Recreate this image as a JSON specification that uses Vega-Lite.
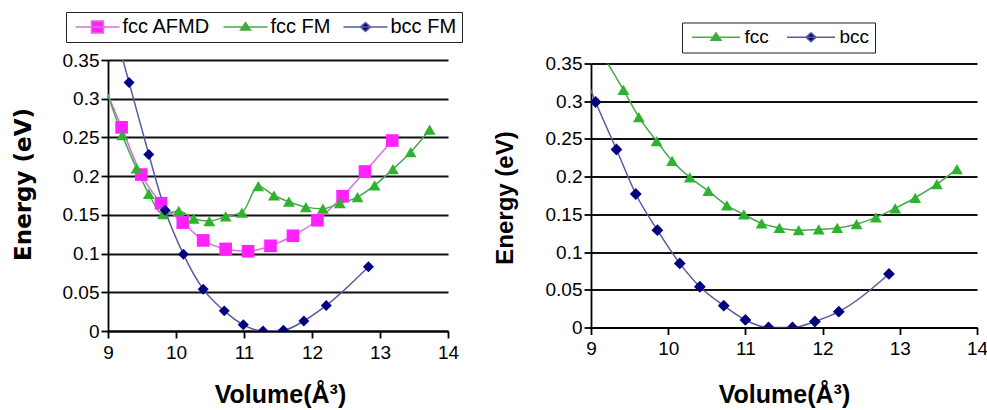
{
  "$schema": "https://vega.github.io/schema/vega-lite/v6.json",
  "autosize": {"type": "none"},
  "padding": {"left": 108, "top": 60, "right": 879, "bottom": 350},
  "background": "white",
  "config": {
    "view": {"stroke": null},
    "font": "Liberation Sans",
    "axis": {
      "labelFont": "Liberation Sans", "labelFontSize": 19, "labelColor": "#000",
      "domainColor": "#000", "domainWidth": 1.8, "tickColor": "#000", "tickWidth": 1.8, "tickSize": 7,
      "labelFlush": false, "labelOverlap": false, "titleColor": "#000", "titleFontWeight": "bold"
    }
  },
  "bounds": "flush",
  "spacing": 143,
  "center": true,
  "resolve": {"scale": {"x": "independent", "y": "independent", "fill": "independent", "stroke": "independent", "shape": "independent", "size": "independent"}},
  "hconcat": [
    {
      "width": 340, "height": 271,
      "data": {"values": [
        {"series": "fcc AFMD", "volume": 8.9, "energy": 0.326},
        {"series": "fcc AFMD", "volume": 9.2, "energy": 0.263},
        {"series": "fcc AFMD", "volume": 9.49, "energy": 0.202},
        {"series": "fcc AFMD", "volume": 9.78, "energy": 0.165},
        {"series": "fcc AFMD", "volume": 10.1, "energy": 0.14},
        {"series": "fcc AFMD", "volume": 10.4, "energy": 0.117},
        {"series": "fcc AFMD", "volume": 10.73, "energy": 0.106},
        {"series": "fcc AFMD", "volume": 11.06, "energy": 0.103},
        {"series": "fcc AFMD", "volume": 11.39, "energy": 0.11},
        {"series": "fcc AFMD", "volume": 11.72, "energy": 0.123},
        {"series": "fcc AFMD", "volume": 12.08, "energy": 0.143},
        {"series": "fcc AFMD", "volume": 12.45, "energy": 0.174},
        {"series": "fcc AFMD", "volume": 12.78, "energy": 0.206},
        {"series": "fcc AFMD", "volume": 13.18, "energy": 0.246},
        {"series": "fcc FM", "volume": 8.9, "energy": 0.33},
        {"series": "fcc FM", "volume": 9.21, "energy": 0.253},
        {"series": "fcc FM", "volume": 9.42, "energy": 0.21},
        {"series": "fcc FM", "volume": 9.6, "energy": 0.177},
        {"series": "fcc FM", "volume": 9.81, "energy": 0.151},
        {"series": "fcc FM", "volume": 10.04, "energy": 0.155},
        {"series": "fcc FM", "volume": 10.26, "energy": 0.145},
        {"series": "fcc FM", "volume": 10.49, "energy": 0.142},
        {"series": "fcc FM", "volume": 10.73, "energy": 0.148},
        {"series": "fcc FM", "volume": 10.97, "energy": 0.153},
        {"series": "fcc FM", "volume": 11.21, "energy": 0.187},
        {"series": "fcc FM", "volume": 11.44, "energy": 0.175},
        {"series": "fcc FM", "volume": 11.66, "energy": 0.167},
        {"series": "fcc FM", "volume": 11.91, "energy": 0.16},
        {"series": "fcc FM", "volume": 12.16, "energy": 0.158},
        {"series": "fcc FM", "volume": 12.41, "energy": 0.165},
        {"series": "fcc FM", "volume": 12.67, "energy": 0.173},
        {"series": "fcc FM", "volume": 12.92, "energy": 0.188},
        {"series": "fcc FM", "volume": 13.19, "energy": 0.209},
        {"series": "fcc FM", "volume": 13.45, "energy": 0.231},
        {"series": "fcc FM", "volume": 13.73, "energy": 0.26},
        {"series": "bcc FM", "volume": 9.05, "energy": 0.404},
        {"series": "bcc FM", "volume": 9.31, "energy": 0.321},
        {"series": "bcc FM", "volume": 9.6, "energy": 0.228},
        {"series": "bcc FM", "volume": 9.84, "energy": 0.156},
        {"series": "bcc FM", "volume": 10.11, "energy": 0.099},
        {"series": "bcc FM", "volume": 10.4, "energy": 0.054},
        {"series": "bcc FM", "volume": 10.71, "energy": 0.026},
        {"series": "bcc FM", "volume": 10.99, "energy": 0.008},
        {"series": "bcc FM", "volume": 11.28, "energy": 0.0},
        {"series": "bcc FM", "volume": 11.58, "energy": 0.001},
        {"series": "bcc FM", "volume": 11.88, "energy": 0.013},
        {"series": "bcc FM", "volume": 12.21, "energy": 0.033},
        {"series": "bcc FM", "volume": 12.83, "energy": 0.083}
      ]},
      "encoding": {
        "x": {"field": "volume", "type": "quantitative",
          "scale": {"domain": [9, 14], "nice": false, "zero": false},
          "axis": {"values": [9, 10, 11, 12, 13, 14], "format": "d", "grid": false, "labelPadding": 5,
            "title": "Volume(Å³)", "titleFont": "Liberation Sans", "titleFontSize": 25,
            "titleX": 172, "titleY": 71, "titleAlign": "center", "titleBaseline": "alphabetic"}},
        "y": {"field": "energy", "type": "quantitative",
          "scale": {"domain": [0, 0.35], "nice": false},
          "axis": {"values": [0, 0.05, 0.1, 0.15, 0.2, 0.25, 0.3, 0.35], "format": ".2~f",
            "grid": true, "gridColor": "#111111", "gridWidth": 2, "labelPadding": 2,
            "title": "Energy (eV)", "titleFont": "DejaVu Sans", "titleFontSize": 23,
            "titleX": -78, "titleY": 124, "titleAngle": -90, "titleAlign": "center", "titleBaseline": "alphabetic"}}
      },
      "resolve": {"scale": {"fill": "independent", "stroke": "independent", "shape": "independent"}},
      "layer": [
        {
          "mark": {"type": "line", "clip": true, "strokeWidth": 1.5, "interpolate": "monotone"},
          "encoding": {
            "stroke": {"field": "series", "type": "nominal",
              "scale": {"domain": ["fcc AFMD", "fcc FM", "bcc FM"], "range": ["#dc6fdc", "#4aa84a", "#5a5aa0"]},
              "legend": null}
          }
        },
        {
          "mark": {"type": "point", "clip": true, "filled": true, "opacity": 1},
          "encoding": {
            "fill": {"field": "series", "type": "nominal",
              "scale": {"domain": ["fcc AFMD", "fcc FM", "bcc FM"], "range": ["#ff22ff", "#2fb22f", "#000080"]},
              "legend": null},
            "shape": {"field": "series", "type": "nominal",
              "scale": {"domain": ["fcc AFMD", "fcc FM", "bcc FM"], "range": ["square", "triangle-up", "diamond"]},
              "legend": null},
            "size": {"field": "series", "type": "nominal",
              "scale": {"domain": ["fcc AFMD", "fcc FM", "bcc FM"], "range": [160, 120, 120]},
              "legend": null}
          }
        },
        {
          "transform": [{"filter": "false"}],
          "mark": {"type": "point", "filled": true, "size": 100, "strokeWidth": 1.5},
          "encoding": {
            "fill": {"field": "series", "type": "nominal",
              "scale": {"domain": ["fcc AFMD", "fcc FM", "bcc FM"], "range": ["#ff22ff", "#2fb22f", "#000080"]},
              "legend": {"orient": "none", "legendX": -42, "legendY": -48, "direction": "horizontal", "columns": 3, "title": null,
                "labelFont": "Liberation Sans", "labelFontSize": 20, "labelColor": "#000", "strokeColor": "#222", "fillColor": "white",
                "padding": 5, "symbolSize": 100, "symbolStrokeWidth": 1.5, "symbolOffset": 16.5, "labelOffset": 15, "columnPadding": 8, "symbolOpacity": 1}},
            "stroke": {"field": "series", "type": "nominal",
              "scale": {"domain": ["fcc AFMD", "fcc FM", "bcc FM"], "range": ["#dc6fdc", "#4aa84a", "#5a5aa0"]},
              "legend": {"orient": "none", "legendX": -42, "legendY": -48, "direction": "horizontal", "columns": 3, "title": null,
                "labelFont": "Liberation Sans", "labelFontSize": 20, "labelColor": "#000", "strokeColor": "#222", "fillColor": "white",
                "padding": 5, "symbolSize": 100, "symbolStrokeWidth": 1.5, "symbolOffset": 16.5, "labelOffset": 15, "columnPadding": 8, "symbolOpacity": 1}},
            "shape": {"field": "series", "type": "nominal",
              "scale": {"domain": ["fcc AFMD", "fcc FM", "bcc FM"], "range": [
                "M-4.4,0H4.4M-1.2,-1.2H1.2V1.2H-1.2Z",
                "M-4.4,0H4.4M0,-0.9L1,0.6H-1Z",
                "M-4.4,0H4.4M0,-0.9L1,0L0,0.9L-1,0Z"]},
              "legend": {"orient": "none", "legendX": -42, "legendY": -48, "direction": "horizontal", "columns": 3, "title": null,
                "labelFont": "Liberation Sans", "labelFontSize": 20, "labelColor": "#000", "strokeColor": "#222", "fillColor": "white",
                "padding": 5, "symbolSize": 100, "symbolStrokeWidth": 1.5, "symbolOffset": 16.5, "labelOffset": 15, "columnPadding": 8, "symbolOpacity": 1}}
          }
        }
      ]
    },
    {
      "width": 386, "height": 264,
      "data": {"values": [
        {"series": "fcc", "volume": 9.1, "energy": 0.37},
        {"series": "fcc", "volume": 9.42, "energy": 0.315},
        {"series": "fcc", "volume": 9.62, "energy": 0.279},
        {"series": "fcc", "volume": 9.85, "energy": 0.247},
        {"series": "fcc", "volume": 10.05, "energy": 0.221},
        {"series": "fcc", "volume": 10.28, "energy": 0.199},
        {"series": "fcc", "volume": 10.52, "energy": 0.181},
        {"series": "fcc", "volume": 10.76, "energy": 0.162},
        {"series": "fcc", "volume": 10.98, "energy": 0.15},
        {"series": "fcc", "volume": 11.21, "energy": 0.138},
        {"series": "fcc", "volume": 11.44, "energy": 0.132},
        {"series": "fcc", "volume": 11.69, "energy": 0.129},
        {"series": "fcc", "volume": 11.95, "energy": 0.13},
        {"series": "fcc", "volume": 12.19, "energy": 0.132},
        {"series": "fcc", "volume": 12.44, "energy": 0.137},
        {"series": "fcc", "volume": 12.69, "energy": 0.146},
        {"series": "fcc", "volume": 12.94, "energy": 0.158},
        {"series": "fcc", "volume": 13.2, "energy": 0.172},
        {"series": "fcc", "volume": 13.48, "energy": 0.19},
        {"series": "fcc", "volume": 13.74, "energy": 0.21},
        {"series": "bcc", "volume": 8.9, "energy": 0.34},
        {"series": "bcc", "volume": 9.06, "energy": 0.299},
        {"series": "bcc", "volume": 9.33, "energy": 0.236},
        {"series": "bcc", "volume": 9.58, "energy": 0.177},
        {"series": "bcc", "volume": 9.86, "energy": 0.129},
        {"series": "bcc", "volume": 10.15, "energy": 0.085},
        {"series": "bcc", "volume": 10.41, "energy": 0.054},
        {"series": "bcc", "volume": 10.72, "energy": 0.029},
        {"series": "bcc", "volume": 11.0, "energy": 0.01},
        {"series": "bcc", "volume": 11.3, "energy": 0.0},
        {"series": "bcc", "volume": 11.61, "energy": 0.0},
        {"series": "bcc", "volume": 11.9, "energy": 0.008},
        {"series": "bcc", "volume": 12.21, "energy": 0.021},
        {"series": "bcc", "volume": 12.86, "energy": 0.071}
      ]},
      "encoding": {
        "x": {"field": "volume", "type": "quantitative",
          "scale": {"domain": [9, 14], "nice": false, "zero": false},
          "axis": {"values": [9, 10, 11, 12, 13, 14], "format": "d", "grid": false, "labelPadding": 5,
            "title": "Volume(Å³)", "titleFont": "Liberation Sans", "titleFontSize": 25,
            "titleX": 193, "titleY": 75, "titleAlign": "center", "titleBaseline": "alphabetic"}},
        "y": {"field": "energy", "type": "quantitative",
          "scale": {"domain": [0, 0.35], "nice": false},
          "axis": {"values": [0, 0.05, 0.1, 0.15, 0.2, 0.25, 0.3, 0.35], "format": ".2~f",
            "grid": true, "gridColor": "#111111", "gridWidth": 2, "labelPadding": 2,
            "title": "Energy (eV)", "titleFont": "Liberation Sans", "titleFontSize": 24,
            "titleX": -79, "titleY": 134, "titleAngle": -90, "titleAlign": "center", "titleBaseline": "alphabetic"}}
      },
      "resolve": {"scale": {"fill": "independent", "stroke": "independent", "shape": "independent"}},
      "layer": [
        {
          "mark": {"type": "line", "clip": true, "strokeWidth": 1.5, "interpolate": "monotone"},
          "encoding": {
            "stroke": {"field": "series", "type": "nominal",
              "scale": {"domain": ["fcc", "bcc"], "range": ["#4aa84a", "#5a5aa0"]},
              "legend": null}
          }
        },
        {
          "mark": {"type": "point", "clip": true, "filled": true, "opacity": 1},
          "encoding": {
            "fill": {"field": "series", "type": "nominal",
              "scale": {"domain": ["fcc", "bcc"], "range": ["#2fb22f", "#000080"]},
              "legend": null},
            "shape": {"field": "series", "type": "nominal",
              "scale": {"domain": ["fcc", "bcc"], "range": ["triangle-up", "diamond"]},
              "legend": null},
            "size": {"field": "series", "type": "nominal",
              "scale": {"domain": ["fcc", "bcc"], "range": [140, 140]},
              "legend": null}
          }
        },
        {
          "transform": [{"filter": "false"}],
          "mark": {"type": "point", "filled": true, "size": 100, "strokeWidth": 1.5},
          "encoding": {
            "fill": {"field": "series", "type": "nominal",
              "scale": {"domain": ["fcc", "bcc"], "range": ["#2fb22f", "#000080"]},
              "legend": {"orient": "none", "legendX": 91, "legendY": -41, "direction": "horizontal", "columns": 2, "title": null,
                "labelFont": "Liberation Sans", "labelFontSize": 19, "labelColor": "#000", "strokeColor": "#222", "fillColor": "white",
                "padding": 5, "symbolSize": 100, "symbolStrokeWidth": 1.5, "symbolOffset": 19.5, "labelOffset": 19, "columnPadding": 13, "symbolOpacity": 1}},
            "stroke": {"field": "series", "type": "nominal",
              "scale": {"domain": ["fcc", "bcc"], "range": ["#4aa84a", "#5a5aa0"]},
              "legend": {"orient": "none", "legendX": 91, "legendY": -41, "direction": "horizontal", "columns": 2, "title": null,
                "labelFont": "Liberation Sans", "labelFontSize": 19, "labelColor": "#000", "strokeColor": "#222", "fillColor": "white",
                "padding": 5, "symbolSize": 100, "symbolStrokeWidth": 1.5, "symbolOffset": 19.5, "labelOffset": 19, "columnPadding": 13, "symbolOpacity": 1}},
            "shape": {"field": "series", "type": "nominal",
              "scale": {"domain": ["fcc", "bcc"], "range": [
                "M-4.8,0H4.8M0,-0.9L1,0.6H-1Z",
                "M-4.8,0H4.8M0,-0.9L1,0L0,0.9L-1,0Z"]},
              "legend": {"orient": "none", "legendX": 91, "legendY": -41, "direction": "horizontal", "columns": 2, "title": null,
                "labelFont": "Liberation Sans", "labelFontSize": 19, "labelColor": "#000", "strokeColor": "#222", "fillColor": "white",
                "padding": 5, "symbolSize": 100, "symbolStrokeWidth": 1.5, "symbolOffset": 19.5, "labelOffset": 19, "columnPadding": 13, "symbolOpacity": 1}}
          }
        }
      ]
    }
  ]
}
